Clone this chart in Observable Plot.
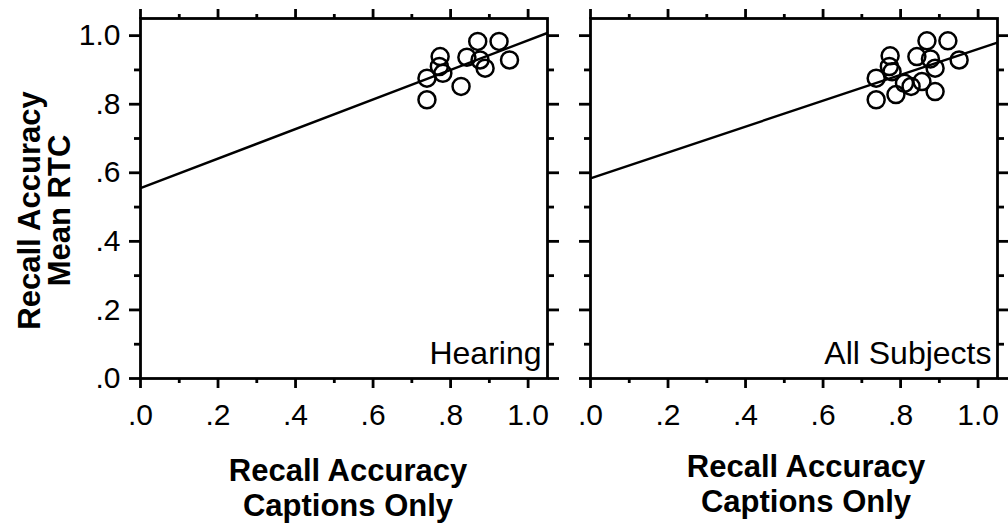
<!DOCTYPE html>
<html>
<head>
<meta charset="utf-8">
<script src="https://cdn.jsdelivr.net/npm/d3@7"></script>
<script src="https://cdn.jsdelivr.net/npm/@observablehq/plot@0.6"></script>
<style>
  html, body { margin: 0; padding: 0; background: white; }
  #wrap { position: relative; width: 1008px; height: 523px; overflow: hidden; }
  #wrap > div, #wrap > svg { position: absolute; top: 0; }
</style>
</head>
<body>
<div id="wrap"></div>
<script>
// ---- data ----
const panelNames = ["Hearing", "All Subjects"];
const xTitle = "Recall Accuracy\nCaptions Only";
const yTitle = "Recall Accuracy\nMean RTC";

const majorTicks = [0, 0.2, 0.4, 0.6, 0.8, 1.0];
const minorTicks = [0.1, 0.3, 0.5, 0.7, 0.9];

const hearingX = [0.870, 0.925, 0.773, 0.842, 0.876, 0.952, 0.771, 0.889, 0.780, 0.739, 0.827, 0.739];
const hearingY = [0.983, 0.983, 0.939, 0.937, 0.929, 0.929, 0.910, 0.905, 0.890, 0.876, 0.852, 0.813];

const allX = [0.868, 0.922, 0.773, 0.842, 0.877, 0.951, 0.771, 0.889, 0.778, 0.737, 0.855, 0.810, 0.827, 0.889, 0.788, 0.737];
const allY = [0.985, 0.985, 0.941, 0.939, 0.932, 0.929, 0.910, 0.905, 0.895, 0.876, 0.866, 0.861, 0.852, 0.837, 0.828, 0.813];

const fitX = [0, 1.05];
const hearingFitY = [0.555, 1.008];
const allFitY = [0.584, 0.980];

// ---- rendering ----
const fmt = d => d >= 1 ? "1.0" : "." + Math.round(d * 10);
const FONT = "'Liberation Sans', Arial, Helvetica, sans-serif";
const SW = 2.8;
const TICKFS = 30;

function panel({name, xs, ys, fitY, left, width, marginLeft, marginRight, showYLabels, titleDx, titleDy}) {
  const pts = xs.map((x, i) => ({x, y: ys[i]}));
  const fit = fitX.map((x, i) => ({x, y: fitY[i]}));
  const marks = [
    Plot.frame({stroke: "black", strokeWidth: SW}),
    // bottom
    Plot.axisX(majorTicks, {anchor: "bottom", tickSize: 10, tickPadding: 15, tickFormat: fmt, fontSize: TICKFS, strokeWidth: SW, label: null}),
    Plot.axisX(minorTicks, {anchor: "bottom", tickSize: 5, tickFormat: () => "", strokeWidth: SW, label: null}),
    // top
    Plot.axisX(majorTicks, {anchor: "top", tickSize: 10, tickFormat: () => "", strokeWidth: SW, label: null}),
    Plot.axisX(minorTicks, {anchor: "top", tickSize: 5, tickFormat: () => "", strokeWidth: SW, label: null}),
    // left
    Plot.axisY(majorTicks, {anchor: "left", tickSize: 11, tickPadding: 9, tickFormat: showYLabels ? fmt : () => "", fontSize: TICKFS, strokeWidth: SW, label: null}),
    Plot.axisY(minorTicks, {anchor: "left", tickSize: 6, tickFormat: () => "", strokeWidth: SW, label: null}),
    // right
    Plot.axisY(majorTicks, {anchor: "right", tickSize: 11, tickFormat: () => "", strokeWidth: SW, label: null}),
    Plot.axisY(minorTicks, {anchor: "right", tickSize: 6, tickFormat: () => "", strokeWidth: SW, label: null}),
    Plot.line(fit, {x: "x", y: "y", stroke: "black", strokeWidth: 2.4, clip: true}),
    Plot.dot(pts, {x: "x", y: "y", r: 8.5, stroke: "black", strokeWidth: 2.5, fill: "none"}),
    Plot.text([name], {frameAnchor: "bottom-right", textAnchor: "end", lineAnchor: "bottom", dx: -6, dy: -15, fontSize: 32, fill: "black"}),
    Plot.text([xTitle], {frameAnchor: "bottom", textAnchor: "middle", lineAnchor: "top", dx: titleDx, dy: titleDy, fontSize: 31, fontWeight: "bold", lineHeight: 1.15, fill: "black"})
  ];
  if (showYLabels) {
    marks.push(Plot.text([yTitle], {frameAnchor: "left", textAnchor: "middle", lineAnchor: "middle", rotate: -90, dx: -95, dy: 12, fontSize: 31, fontWeight: "bold", lineHeight: 0.95, fill: "black"}));
  }
  const svg = Plot.plot({
    width, height: 523,
    marginLeft, marginRight, marginTop: 18, marginBottom: 145,
    x: {domain: [0, 1.05]},
    y: {domain: [0, 1.05]},
    style: {fontFamily: FONT, background: "transparent", color: "black", overflow: "visible"},
    marks
  });
  svg.style.left = left + "px";
  return svg;
}

const wrap = document.getElementById("wrap");
wrap.appendChild(panel({name: panelNames[0], xs: hearingX, ys: hearingY, fitY: hearingFitY, left: 0, width: 570, marginLeft: 140, marginRight: 23, showYLabels: true, titleDx: 4, titleDy: 77}));
wrap.appendChild(panel({name: panelNames[1], xs: allX, ys: allY, fitY: allFitY, left: 570, width: 438, marginLeft: 20, marginRight: 11, showYLabels: false, titleDx: 12, titleDy: 73}));
</script>
</body>
</html>
